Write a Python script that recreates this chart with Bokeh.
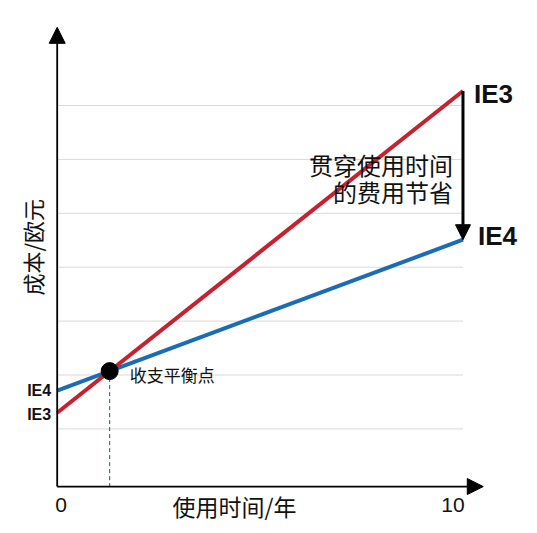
from bokeh.plotting import figure
from bokeh.models import Range1d, Arrow, NormalHead
from bokeh.core.properties import value
from bokeh.embed import file_html
from bokeh.resources import INLINE

# ---- data ----
years = [0, 10]
ie3_cost = [1.30, 7.27]
ie4_cost = [1.71, 4.51]
grid_levels = [1, 2, 3, 4, 5, 6, 7]
x_tick_labels = ["0", "10"]
x_title = "使用时间/年"
y_title = "成本/欧元"
series_names = ["IE3", "IE4"]
breakeven_label = "收支平衡点"
savings_lines = ["贯穿使用时间", "的费用节省"]

# ---- derived ----
s3 = (ie3_cost[1] - ie3_cost[0]) / (years[1] - years[0])
s4 = (ie4_cost[1] - ie4_cost[0]) / (years[1] - years[0])
x_be = (ie4_cost[0] - ie3_cost[0]) / (s3 - s4)
y_be = ie3_cost[0] + s3 * x_be

# ---- layout ----
AXIS_Y = -0.07
X_TIP = 10.5
Y_TIP = 8.45
RED = "#C8202E"
BLUE = "#1A6DB5"
CJK = value("Noto Sans CJK SC")
LAT = value("Liberation Sans")

p = figure(width=521, height=530, x_range=Range1d(-1.397, 11.442),
           y_range=Range1d(-0.885, 8.948), min_border=0,
           toolbar_location=None, output_backend="svg",
           x_axis_location=None, y_axis_location=None)
p.grid.visible = False
p.outline_line_color = None
p.background_fill_color = "white"

# grid lines
p.segment(x0=[years[0]] * len(grid_levels), x1=[years[1]] * len(grid_levels),
          y0=grid_levels, y1=grid_levels, line_color="#d9d9d9", line_width=1)

# axes with arrow heads
p.add_layout(Arrow(end=NormalHead(size=16, fill_color="black", line_color="black"),
                   x_start=years[0], y_start=AXIS_Y, x_end=X_TIP, y_end=AXIS_Y,
                   line_color="black", line_width=1.8))
p.add_layout(Arrow(end=NormalHead(size=16, fill_color="black", line_color="black"),
                   x_start=years[0], y_start=AXIS_Y, x_end=years[0], y_end=Y_TIP,
                   line_color="black", line_width=1.8))

# breakeven dashed line
p.segment(x0=[x_be], x1=[x_be], y0=[y_be], y1=[AXIS_Y],
          line_color="#1F4E8C", line_width=1, line_dash="4 3")

# cost lines
p.line(years, ie4_cost, line_color=BLUE, line_width=4)
p.line(years, ie3_cost, line_color=RED, line_width=4)

# breakeven dot
p.scatter([x_be], [y_be], size=17, fill_color="black", line_color="black")

# savings arrow
p.add_layout(Arrow(end=NormalHead(size=15, fill_color="black", line_color="black"),
                   x_start=years[1], y_start=ie3_cost[1], x_end=years[1], y_end=ie4_cost[1],
                   line_color="black", line_width=3))

# tick labels
p.text(x=[years[0]], y=[AXIS_Y], text=[x_tick_labels[0]], x_offset=4, y_offset=18,
       text_align="center", text_baseline="middle", text_font=LAT,
       text_font_size="21px", text_color="#111111")
p.text(x=[years[1]], y=[AXIS_Y], text=[x_tick_labels[1]], x_offset=-10, y_offset=18,
       text_align="center", text_baseline="middle", text_font=LAT,
       text_font_size="21px", text_color="#111111")

# axis titles
p.text(x=[(years[0] + years[1]) / 2 - 0.63], y=[AXIS_Y], text=[x_title], y_offset=19,
       text_align="center", text_baseline="middle", text_font=CJK,
       text_font_size="23px", text_color="#111111")
p.text(x=[years[0]], y=[4.37], text=[y_title], x_offset=-25, angle=1.5708,
       text_align="center", text_baseline="middle", text_font=CJK,
       text_font_size="22px", text_color="#111111")

# left series labels
p.text(x=[years[0]], y=[ie3_cost[0]], text=[series_names[0]], x_offset=-6, y_offset=2,
       text_align="right", text_baseline="middle", text_font=LAT,
       text_font_size="16px", text_font_style="bold", text_color="#111111")
p.text(x=[years[0]], y=[ie4_cost[0]], text=[series_names[1]], x_offset=-6, y_offset=0,
       text_align="right", text_baseline="middle", text_font=LAT,
       text_font_size="16px", text_font_style="bold", text_color="#111111")

# right series labels
p.text(x=[years[1]], y=[ie3_cost[1]], text=[series_names[0]], x_offset=11, y_offset=3,
       text_align="left", text_baseline="middle", text_font=LAT,
       text_font_size="26px", text_font_style="bold", text_color="#111111")
p.text(x=[years[1]], y=[ie4_cost[1]], text=[series_names[1]], x_offset=15, y_offset=-4,
       text_align="left", text_baseline="middle", text_font=LAT,
       text_font_size="26px", text_font_style="bold", text_color="#111111")

# breakeven label
p.text(x=[x_be], y=[y_be], text=[breakeven_label], x_offset=20, y_offset=3,
       text_align="left", text_baseline="middle", text_font=CJK,
       text_font_size="17px", text_color="#111111")

# savings annotation
mid = (ie3_cost[1] + ie4_cost[1]) / 2
p.text(x=[years[1]], y=[mid], text=[savings_lines[0]], x_offset=-10, y_offset=-1,
       text_align="right", text_baseline="middle", text_font=CJK,
       text_font_size="24px", text_color="#111111")
p.text(x=[years[1]], y=[mid], text=[savings_lines[1]], x_offset=-10, y_offset=26,
       text_align="right", text_baseline="middle", text_font=CJK,
       text_font_size="24px", text_color="#111111")

open("out.html", "w").write(file_html(p, INLINE))
